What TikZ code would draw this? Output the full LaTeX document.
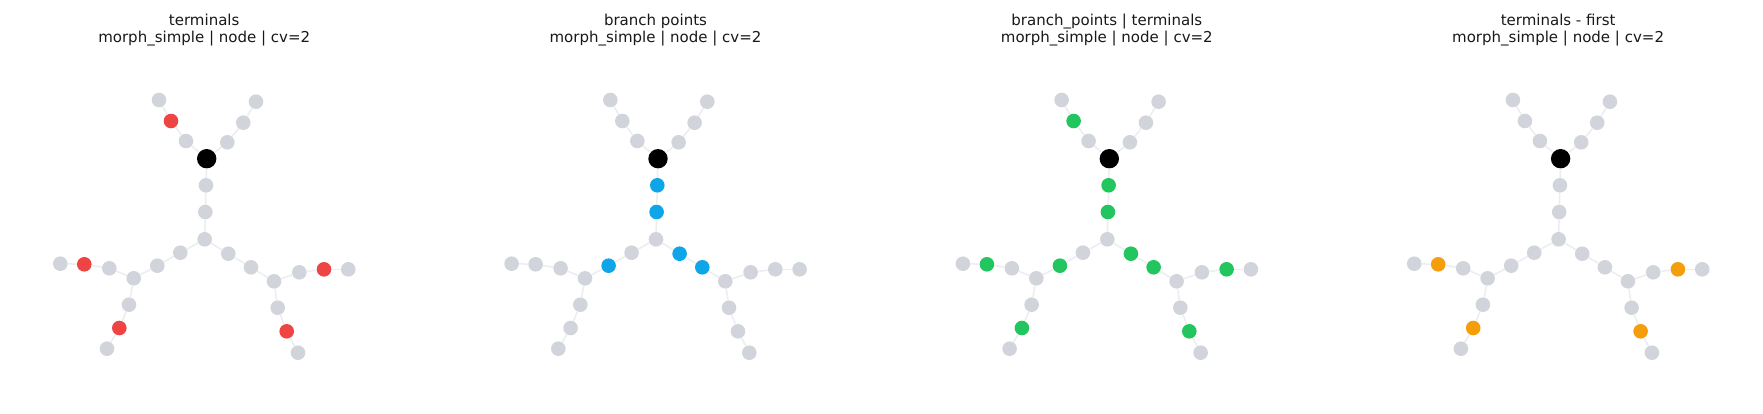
\documentclass[tikz,border=0pt]{standalone}
\usepackage{fontspec}
\setmainfont{DejaVu Sans}
\definecolor{vgray}{HTML}{D1D5DB}
\definecolor{egray}{HTML}{ECEDF0}
\definecolor{hred}{HTML}{EF4444}
\definecolor{hblue}{HTML}{0EA5E9}
\definecolor{hgreen}{HTML}{22C55E}
\definecolor{horange}{HTML}{F59E0B}
\tikzset{
  vtx/.style={circle, fill=vgray, draw=none, inner sep=0pt, minimum size=14.6pt},
  rootv/.style={circle, fill=black, draw=none, inner sep=0pt, minimum size=19.4pt},
  edge/.style={draw=egray, line width=1.5pt},
  ttl/.style={anchor=base, inner sep=0pt, font=\fontsize{15}{18}\selectfont, text=black!90}
}
\newcommand\drawtree[1]{%
  \node[rootv] (#1r) at (206.7,158.7) {};
  \foreach \id/\px/\py in {a1/186/141, a2/171/121, a3/159/100,
      b1/227.3/142.3, b2/243.3/122.7, b3/256/101.7,
      t1/206/185.3, t2/205.3/212, t3/204.7/239.3,
      l1/180.3/252.7, l2/157.3/265.7, l3/133.7/278.3,
      la1/109.3/268.3, la2/84.3/264.3, la3/60.3/263.7,
      lb1/129/304.7, lb2/119.3/328, lb3/107/348.7,
      r1/228.3/253.7, r2/251/267.3, r3/274/281.3,
      ra1/299.3/272.3, ra2/324/269.3, ra3/348.3/269.3,
      rb1/277.7/307.7, rb2/286.7/331.3, rb3/298/352.7}
    {\node[vtx, s\id/.try] (#1\id) at (\px,\py) {};}
  \foreach \u/\v in {r/a1, a1/a2, a2/a3, r/b1, b1/b2, b2/b3,
      r/t1, t1/t2, t2/t3, t3/l1, l1/l2, l2/l3,
      l3/la1, la1/la2, la2/la3, l3/lb1, lb1/lb2, lb2/lb3,
      t3/r1, r1/r2, r2/r3, r3/ra1, ra1/ra2, ra2/ra3,
      r3/rb1, rb1/rb2, rb2/rb3}
    {\draw[edge] (#1\u) -- (#1\v);}
}
\begin{document}
\begin{tikzpicture}[x=1pt, y=-1pt]
\useasboundingbox[fill=white] (0,0) rectangle (1763,413);
% panel 1
\begin{scope}[sa2/.style={fill=hred}, sla2/.style={fill=hred}, slb2/.style={fill=hred},
  sra2/.style={fill=hred}, srb2/.style={fill=hred}]
  \drawtree{A}
  \node[ttl] (A-t1) at (204.2,25) {terminals};
  \node[ttl] (A-t2) at (204.2,42.7) {morph\_simple | node | cv=2};
\end{scope}
% panel 2
\begin{scope}[xshift=451.3pt, st1/.style={fill=hblue}, st2/.style={fill=hblue},
  sl2/.style={fill=hblue}, sr1/.style={fill=hblue}, sr2/.style={fill=hblue}]
  \drawtree{B}
  \node[ttl] (B-t1) at (204.2,25) {branch points};
  \node[ttl] (B-t2) at (204.2,42.7) {morph\_simple | node | cv=2};
\end{scope}
% panel 3
\begin{scope}[xshift=902.6pt, sa2/.style={fill=hgreen}, st1/.style={fill=hgreen}, st2/.style={fill=hgreen},
  sl2/.style={fill=hgreen}, sr1/.style={fill=hgreen}, sr2/.style={fill=hgreen},
  sla2/.style={fill=hgreen}, slb2/.style={fill=hgreen}, sra2/.style={fill=hgreen}, srb2/.style={fill=hgreen}]
  \drawtree{C}
  \node[ttl] (C-t1) at (204.2,25) {branch\_points | terminals};
  \node[ttl] (C-t2) at (204.2,42.7) {morph\_simple | node | cv=2};
\end{scope}
% panel 4
\begin{scope}[xshift=1353.9pt, sla2/.style={fill=horange}, slb2/.style={fill=horange},
  sra2/.style={fill=horange}, srb2/.style={fill=horange}]
  \drawtree{D}
  \node[ttl] (D-t1) at (204.2,25) {terminals - first};
  \node[ttl] (D-t2) at (204.2,42.7) {morph\_simple | node | cv=2};
\end{scope}
\end{tikzpicture}
\end{document}
